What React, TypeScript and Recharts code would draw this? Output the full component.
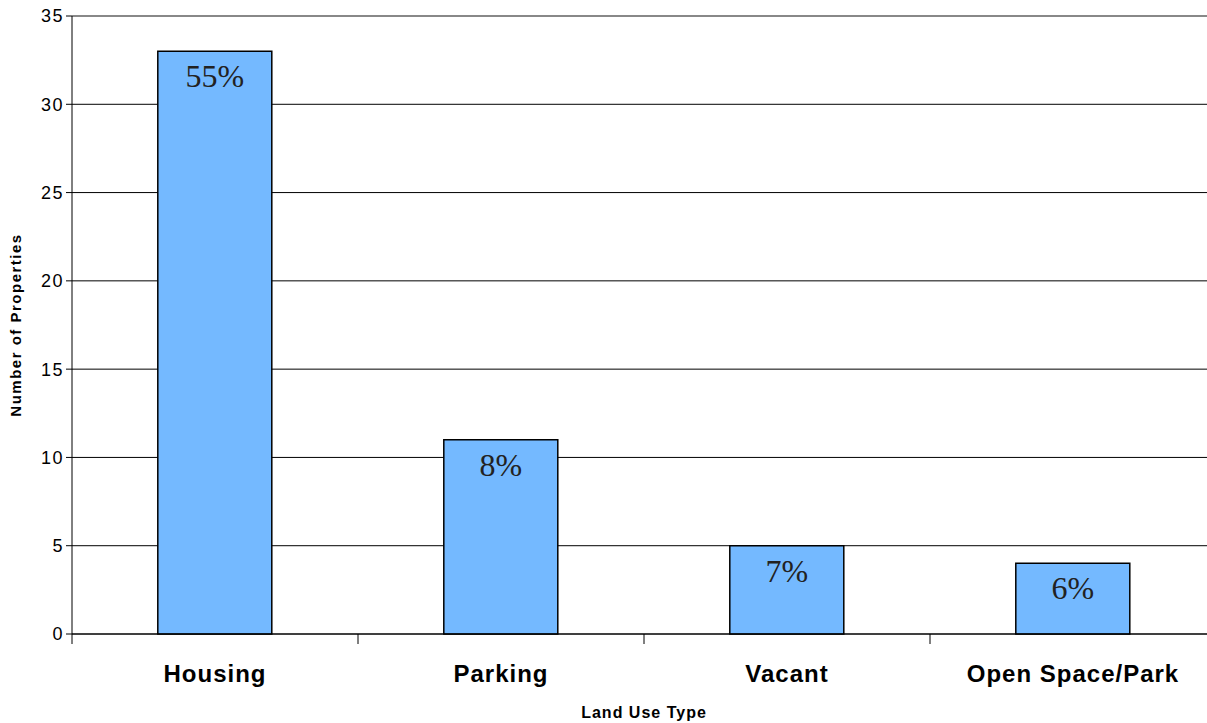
import { Bar, BarChart, CartesianGrid, LabelList, ReferenceLine, XAxis, YAxis } from "recharts";

const categories = ["Housing", "Parking", "Vacant", "Open Space/Park"];
const counts = [33, 11, 5, 4];
const shares = ["55%", "8%", "7%", "6%"];
const yTicks = [0, 5, 10, 15, 20, 25, 30, 35];

const data = categories.map((name, i) => ({ name, count: counts[i], share: shares[i] }));

// the original plot runs a little past the right edge of the picture
const W = 1220;
const H = 723;
const M = { top: 16, right: 4, left: 0, bottom: 0 };
const Y_W = 72;
const X_H = 89;
const HALF_BAND = (W - M.left - M.right - Y_W) / categories.length / 2;
const SANS = "Arial, 'Liberation Sans', sans-serif";

function XTick(props: any) {
  const { x, y, payload, index } = props;
  const last = index === categories.length - 1;
  return (
    <g>
      <line x1={x - HALF_BAND} x2={x - HALF_BAND} y1={y - 8} y2={y + 2} stroke="#000" />
      {last && <line x1={x + HALF_BAND} x2={x + HALF_BAND} y1={y - 8} y2={y + 2} stroke="#000" />}
      <text
        x={x}
        y={y + 40}
        textAnchor="middle"
        fontFamily={SANS}
        fontWeight={700}
        fontSize={24}
        letterSpacing={1}
        fill="#000"
      >
        {payload.value}
      </text>
    </g>
  );
}

function ShareLabel(props: any) {
  const { x, y, width, value } = props;
  return (
    <text
      x={Number(x) + Number(width) / 2}
      y={Number(y) + 36}
      textAnchor="middle"
      fontFamily="'Times New Roman', 'Liberation Serif', serif"
      fontSize={32}
      fill="#222"
    >
      {value}
    </text>
  );
}

export default function App() {
  return (
    <div style={{ position: "absolute", left: 0, top: 0, width: 1207, height: H, overflow: "hidden", background: "#fff" }}>
      <BarChart width={W} height={H} data={data} margin={M} barCategoryGap="30%">
        <CartesianGrid vertical={false} stroke="#000" strokeWidth={1} />
        <ReferenceLine y={35} stroke="#888" strokeWidth={2} />
        <XAxis
          dataKey="name"
          height={X_H}
          axisLine={{ stroke: "#000" }}
          tickLine={false}
          tick={<XTick />}
          interval={0}
          label={{
            value: "Land Use Type",
            position: "insideBottom",
            offset: 5,
            style: { fontFamily: SANS, fontWeight: 700, fontSize: 16, letterSpacing: 1, fill: "#000" },
          }}
        />
        <YAxis
          width={Y_W}
          domain={[0, 35]}
          ticks={yTicks}
          interval={0}
          axisLine={{ stroke: "#000" }}
          tickLine={{ stroke: "#000" }}
          tickSize={6}
          tick={{ fontFamily: SANS, fontSize: 18, letterSpacing: 1.5, fill: "#000" }}
          label={{
            value: "Number of Properties",
            angle: -90,
            position: "insideLeft",
            offset: 16,
            style: {
              textAnchor: "middle",
              fontFamily: SANS,
              fontWeight: 700,
              fontSize: 15,
              letterSpacing: 1.5,
              fill: "#000",
            },
          }}
        />
        <Bar dataKey="count" fill="#74B9FF" stroke="#000" strokeWidth={1.5} isAnimationActive={false}>
          <LabelList dataKey="share" content={<ShareLabel />} />
        </Bar>
      </BarChart>
    </div>
  );
}
